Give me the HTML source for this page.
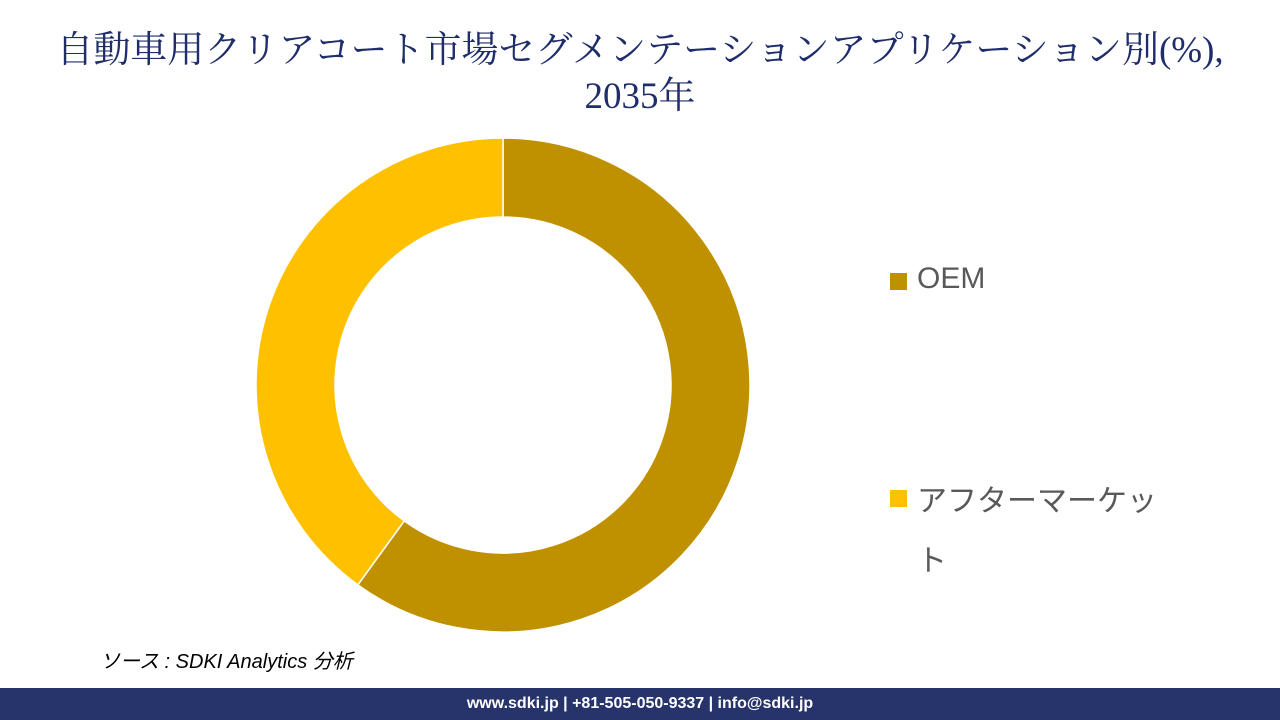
<!DOCTYPE html>
<html><head><meta charset="utf-8"><style>
body{margin:0;width:1280px;height:720px;background:#fff;position:relative;overflow:hidden;font-family:"Liberation Sans","Noto Sans CJK JP",sans-serif}
#title{position:absolute;top:28px;left:0;width:1280px;text-align:center;font-family:"Liberation Serif","Noto Serif CJK SC",serif;font-size:37px;line-height:46px;color:#1f2d6b;white-space:nowrap}
#src{position:absolute;left:100px;top:645px;font-style:italic;font-size:20px;color:#000}
#footer{position:absolute;left:0;top:688px;width:1280px;height:32px;background:#27336b;color:#fff;font-weight:bold;font-size:16px;text-align:center;line-height:32px}
.leg{position:absolute;font-size:30px;color:#595959}
.sw{position:absolute;width:17px;height:17px}
</style></head><body>
<div id="title">自動車用クリアコート市場セグメンテーションアプリケーション別(%),<br>2035年</div>
<svg id="chart" width="1280" height="720" style="position:absolute;left:0;top:0"></svg>
<div class="sw" style="left:890px;top:273px;background:#bf9000"></div>
<div class="leg" style="left:917px;top:262px">OEM</div>
<div class="sw" style="left:890px;top:490px;background:#ffc000"></div>
<div class="leg" style="left:917px;top:472px;width:280px;line-height:60px">アフターマーケッ<br>ト</div>
<div id="src">ソース : SDKI Analytics 分析</div>
<div id="footer">www.sdki.jp | +81-505-050-9337 | info@sdki.jp</div>
<script>
const categories=["OEM","アフターマーケット"];
const values=[60,40];
const colors=["#bf9000","#ffc000"];
const svg=document.getElementById('chart');
const cx=503,cy=385,R=247,r=168;
const total=values.reduce((a,b)=>a+b,0);
let a0=0;
function pt(rad,a){return [cx+rad*Math.sin(a),cy-rad*Math.cos(a)];}
values.forEach((v,i)=>{
const a1=a0+v/total*2*Math.PI;
const large=(a1-a0)>Math.PI?1:0;
const [x1,y1]=pt(R,a0),[x2,y2]=pt(R,a1),[x3,y3]=pt(r,a1),[x4,y4]=pt(r,a0);
const p=document.createElementNS('http://www.w3.org/2000/svg','path');
p.setAttribute('d',`M${x1},${y1}A${R},${R} 0 ${large} 1 ${x2},${y2}L${x3},${y3}A${r},${r} 0 ${large} 0 ${x4},${y4}Z`);
p.setAttribute('fill',colors[i]);
p.setAttribute('stroke','#fff');
p.setAttribute('stroke-width','1.5');


svg.appendChild(p);
a0=a1;
});
</script>
</body></html>
